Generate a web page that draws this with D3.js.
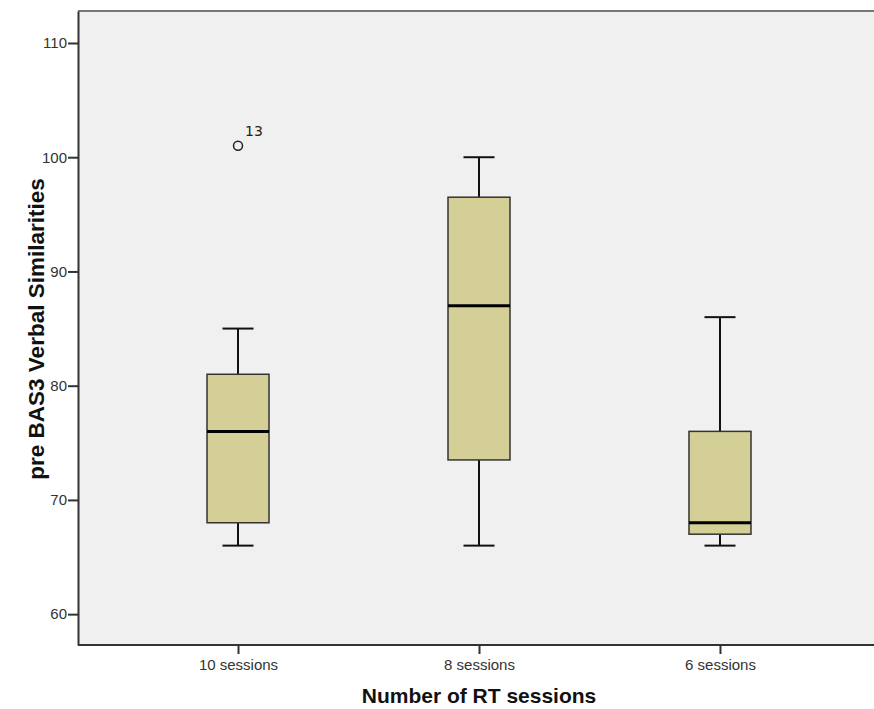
<!DOCTYPE html>
<html>
<head>
<meta charset="utf-8">
<script src="https://cdn.jsdelivr.net/npm/d3@7"></script>
<style>
  body { margin: 0; background: #fff; }
</style>
</head>
<body>
<div id="chart"></div>
<script>
// Data
const groups = ["10 sessions", "8 sessions", "6 sessions"]
const whiskerLow = [66, 66, 66]
const q1 = [68, 73.5, 67]
const median = [76, 87, 68]
const q3 = [81, 96.5, 76]
const whiskerHigh = [85, 100, 86]
const outliers = [{ group: "10 sessions", value: 101, label: "13" }]
const yTicks = [60, 70, 80, 90, 100, 110]

const WIDTH = 874
const HEIGHT = 709
const plotLeft = 78, plotTop = 11, plotBottom = 645, plotRight = 880

const svg = d3.select("#chart")
    .append("svg")
    .attr("width", WIDTH)
    .attr("height", HEIGHT)
    .style("font-family", "'Liberation Sans', Arial, sans-serif")

// plot background
svg.append("rect")
    .attr("x", plotLeft).attr("y", plotTop)
    .attr("width", plotRight - plotLeft).attr("height", plotBottom - plotTop)
    .attr("fill", "#f0f0f0")

const x = d3.scalePoint()
    .domain(groups)
    .range([plotLeft, plotRight])
    .padding(0.664)

const y = d3.scaleLinear()
    .domain([57.3, 112.8])
    .range([plotBottom, plotTop])

const boxW = 62, capW = 31

const rows = groups.map((g, i) => ({
    g, lo: whiskerLow[i], q1: q1[i], med: median[i], q3: q3[i], hi: whiskerHigh[i]
}))

const box = svg.append("g").selectAll("g")
    .data(rows)
    .enter().append("g")

// whiskers
box.append("line")
    .attr("x1", d => x(d.g)).attr("x2", d => x(d.g))
    .attr("y1", d => y(d.q3)).attr("y2", d => y(d.hi))
    .attr("stroke", "#111").attr("stroke-width", 2)
box.append("line")
    .attr("x1", d => x(d.g)).attr("x2", d => x(d.g))
    .attr("y1", d => y(d.q1)).attr("y2", d => y(d.lo))
    .attr("stroke", "#111").attr("stroke-width", 2)
// caps
box.selectAll(".cap")
    .data(d => [d.lo, d.hi].map(v => ({ g: d.g, v })))
    .enter().append("line")
    .attr("x1", d => x(d.g) - capW / 2).attr("x2", d => x(d.g) + capW / 2)
    .attr("y1", d => y(d.v)).attr("y2", d => y(d.v))
    .attr("stroke", "#111").attr("stroke-width", 2)
// box
box.append("rect")
    .attr("x", d => x(d.g) - boxW / 2)
    .attr("y", d => y(d.q3))
    .attr("width", boxW)
    .attr("height", d => y(d.q1) - y(d.q3))
    .attr("fill", "#d3cf97")
    .attr("stroke", "#333").attr("stroke-width", 1.5)
// median
box.append("line")
    .attr("x1", d => x(d.g) - boxW / 2).attr("x2", d => x(d.g) + boxW / 2)
    .attr("y1", d => y(d.med)).attr("y2", d => y(d.med))
    .attr("stroke", "#000").attr("stroke-width", 3)

// outliers
svg.append("g").selectAll("circle")
    .data(outliers)
    .enter().append("circle")
    .attr("cx", d => x(d.group)).attr("cy", d => y(d.value))
    .attr("r", 4.5)
    .attr("fill", "none").attr("stroke", "#222").attr("stroke-width", 1.5)
svg.append("g").selectAll("text")
    .data(outliers)
    .enter().append("text")
    .attr("x", d => x(d.group) + 7).attr("y", d => y(d.value) - 10)
    .attr("font-family", "'DejaVu Sans', sans-serif")
    .attr("font-size", 14).attr("fill", "#222")
    .text(d => d.label)

// top border
svg.append("line")
    .attr("x1", plotLeft).attr("x2", WIDTH)
    .attr("y1", plotTop).attr("y2", plotTop)
    .attr("stroke", "#777").attr("stroke-width", 2)

// axes
const yAxis = svg.append("g")
    .attr("transform", `translate(${plotLeft},0)`)
    .call(d3.axisLeft(y).tickValues(yTicks).tickSize(10).tickSizeOuter(0).tickPadding(1))
yAxis.select(".domain").attr("stroke", "#333").attr("stroke-width", 2)
yAxis.selectAll(".tick line").attr("stroke", "#333").attr("stroke-width", 2)
yAxis.selectAll(".tick text").attr("font-size", 15).attr("fill", "#333")
    .attr("font-family", "'Liberation Sans', Arial, sans-serif")

const xAxis = svg.append("g")
    .attr("transform", `translate(0,${plotBottom})`)
    .call(d3.axisBottom(x).tickSize(9).tickSizeOuter(0).tickPadding(5))
xAxis.select(".domain").attr("d", `M${plotLeft},0H${WIDTH}`).attr("stroke", "#333").attr("stroke-width", 2)
xAxis.selectAll(".tick line").attr("stroke", "#333").attr("stroke-width", 2)
xAxis.selectAll(".tick text").attr("font-size", 15).attr("fill", "#333")
    .attr("font-family", "'Liberation Sans', Arial, sans-serif")

// axis titles
svg.append("text")
    .attr("x", (plotLeft + plotRight) / 2).attr("y", 703)
    .attr("text-anchor", "middle")
    .attr("font-size", 21).attr("font-weight", "bold").attr("fill", "#111")
    .text("Number of RT sessions")

svg.append("text")
    .attr("transform", `translate(44,${(plotTop + plotBottom) / 2 + 1}) rotate(-90)`)
    .attr("text-anchor", "middle")
    .attr("font-size", 22.5).attr("font-weight", "bold").attr("fill", "#111")
    .text("pre BAS3 Verbal Similarities")
</script>
</body>
</html>
